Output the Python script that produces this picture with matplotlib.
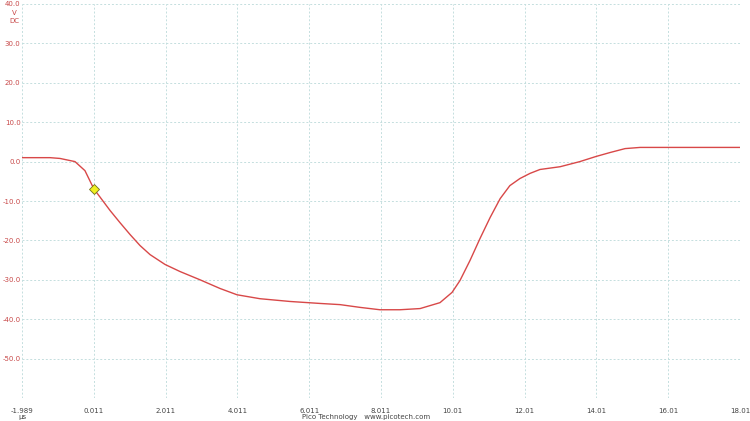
import matplotlib
matplotlib.use("Agg")
import matplotlib.pyplot as plt

# time in microseconds, voltage in volts
t_us = [-1.989, -1.209, -0.93, -0.513, -0.235, 0.011, 0.184, 0.463, 0.741, 1.02,
        1.298, 1.577, 1.994, 2.412, 2.97, 3.526, 4.0, 4.64, 5.476, 6.31,
        6.87, 7.426, 7.98, 8.54, 9.1, 9.654, 9.99, 10.21, 10.49, 10.77,
        11.05, 11.33, 11.6, 11.88, 12.16, 12.44, 13.0, 13.55, 14.0, 14.39,
        14.81, 15.23, 18.01]
volts = [1.0, 1.0, 0.8, 0.0, -2.3, -6.9, -9.0, -12.4, -15.5, -18.5,
         -21.3, -23.6, -26.1, -27.9, -30.0, -32.2, -33.8, -34.8, -35.5, -36.0,
         -36.3, -37.0, -37.6, -37.6, -37.3, -35.8, -33.2, -30.2, -25.1, -19.5,
         -14.2, -9.4, -6.1, -4.3, -3.0, -2.0, -1.3, 0.0, 1.3, 2.3,
         3.3, 3.6, 3.6]

marker_t = [0.011]
marker_v = [-6.9]

x_ticks = [-1.989, 0.011, 2.011, 4.011, 6.011, 8.011, 10.011, 12.011, 14.011, 16.011, 18.011]
x_labels = ["-1.989", "0.011", "2.011", "4.011", "6.011", "8.011", "10.01", "12.01", "14.01", "16.01", "18.01"]
y_ticks = [-60, -50, -40, -30, -20, -10, 0, 10, 20, 30, 40]
y_labels = ["", "-50.0", "-40.0", "-30.0", "-20.0", "-10.0", "0.0", "10.0", "20.0", "30.0", "40.0"]

fig = plt.figure(figsize=(7.5, 4.21), dpi=100)
ax = fig.add_axes([22/750, 1-398/421, (740-22)/750, (398-4)/421])
ax.plot(t_us, volts, color="#d84848", lw=1.0)
ax.plot(marker_t, marker_v, marker="D", ms=5.5, mfc="#f0f020", mec="#707020", mew=0.6, ls="none")

ax.set_xlim(-1.989, 18.011)
ax.set_ylim(-60, 40)
ax.set_xticks(x_ticks)
ax.set_xticklabels(x_labels)
ax.set_yticks(y_ticks)
ax.set_yticklabels(y_labels)
ax.tick_params(axis="both", length=0, labelsize=5)
ax.tick_params(axis="y", colors="#c84848", pad=1)
ax.tick_params(axis="x", colors="#444444", pad=7)
ax.grid(True, color="#c4dede", ls=(0, (2, 2)), lw=0.7)
for s in ax.spines.values():
    s.set_visible(False)

fig.text(14/750, 1-13/421, "V", color="#c84848", fontsize=5, ha="center", va="center")
fig.text(14/750, 1-21/421, "DC", color="#c84848", fontsize=5, ha="center", va="center")
fig.text(22/750, 1-417/421, "µs", color="#444444", fontsize=5, ha="center", va="center")
fig.text(366/750, 1-417/421, "Pico Technology   www.picotech.com", color="#444444", fontsize=5, ha="center", va="center")

fig.savefig("out.png", dpi=100)
